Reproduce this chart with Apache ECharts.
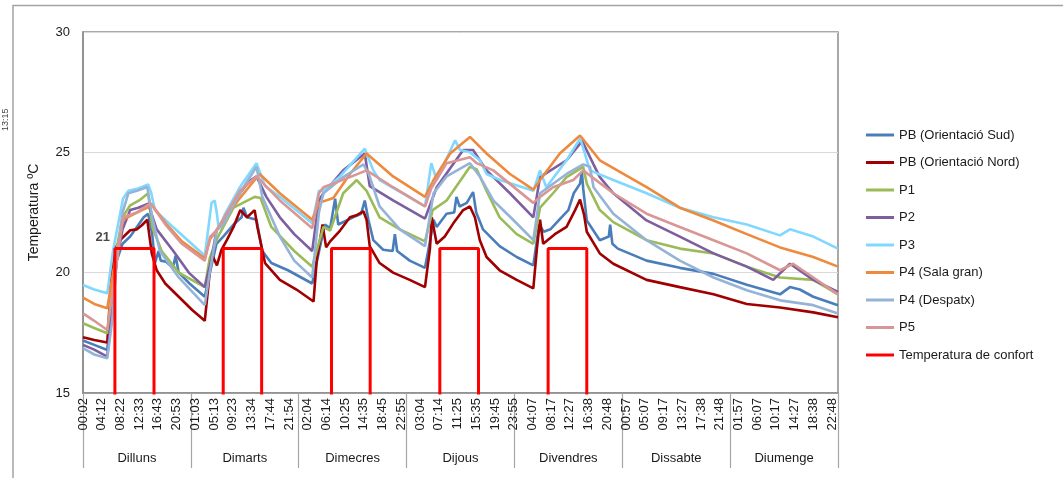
<!DOCTYPE html>
<html>
<head>
<meta charset="utf-8">
<script src="https://cdn.jsdelivr.net/npm/echarts@6/dist/echarts.min.js"></script>
<style>html,body{margin:0;padding:0;background:#fff;}#c{width:1063px;height:478px;}</style>
</head>
<body>
<div id="c"></div>
<script>
// ---- DATA (x = hours since Monday 00:00, y = temperature ºC) ----
const days = ['Dilluns','Dimarts','Dimecres','Dijous','Divendres','Dissabte','Diumenge'];
const tickLabels = [
 '00:02','04:12','08:22','12:33','16:43','20:53',
 '01:03','05:13','09:23','13:34','17:44','21:54',
 '02:04','06:14','10:25','14:35','18:45','22:55',
 '03:04','07:14','11:25','15:35','19:45','23:55',
 '04:07','08:17','12:27','16:38','20:48',
 '00:57','05:07','09:17','13:27','17:38','21:48',
 '01:57','06:07','10:17','14:27','18:38','22:48'];
const seriesNames = ['PB (Orientació Sud)','PB (Orientació Nord)','P1','P2','P3','P4 (Sala gran)','P4 (Despatx)','P5','Temperatura de confort'];

const pbSud = [[0,17.18],[2.5,17.0],[5.4,16.79],[6.2,18.5],[7.5,20.5],[8.8,21.2],[10.5,21.5],[12,21.9],[13.5,22.3],[14.5,22.45],[15.4,21.6],[16.0,20.4],[16.8,20.9],[17.3,20.5],[18.5,20.45],[20,20.2],[20.6,20.7],[21.3,20.0],[23.7,19.55],[27.1,19.0],
 [28.0,19.8],[29.7,21.2],[31.2,21.5],[33.5,22.0],[35.3,22.3],[35.7,22.7],[36.5,22.3],[38.6,22.2],[39.9,20.9],[41.9,20.4],[45.6,20.1],[51,19.55],
 [53.8,22.0],[55,21.85],[56.1,23.07],[56.8,22.0],[60.1,22.3],[61.9,22.45],[62.7,23.0],[63.5,22.2],[64.6,21.35],[66.8,20.95],[68.9,20.9],[69.4,21.6],[69.9,20.9],[72.7,20.5],[76.1,20.2],
 [77.6,21.7],[78.0,22.2],[78.7,21.9],[80.9,22.45],[82.6,22.5],[83.1,23.15],[83.8,22.75],[85.4,22.9],[86.8,23.35],[87.5,22.5],[89,21.8],[92.7,21.1],[96.5,20.65],[100.2,20.3],
 [101.5,22.0],[102.5,21.7],[104,21.8],[106,22.2],[108,22.6],[109.2,23.3],[110.6,23.7],[111.0,24.2],[111.3,23.5],[112.1,22.17],[115,21.35],[117.0,21.5],[117.3,22.0],[117.8,21.2],[119,21.0],[125.4,20.5],[132.8,20.2],[140.3,19.95],[147.7,19.5],[155.1,19.1],[157.3,19.4],[159.5,19.3],[162.5,19.0],[168,18.65]];

const pbNord = [[0,17.32],[2.5,17.2],[5.4,17.1],[5.9,18.6],[6.4,20.1],[7.1,21.0],[8.5,21.4],[10.5,21.76],[12,21.8],[13.1,21.97],[14.3,22.2],[15.3,20.8],[16.4,20.1],[18.3,19.55],[21.3,19.0],[24.3,18.45],[27.1,18.0],
 [28.2,20.0],[28.6,20.8],[29.8,20.3],[30.8,20.95],[32,21.35],[33.5,21.9],[35,22.6],[36.5,22.3],[38.2,22.6],[38.8,21.9],[40.5,20.4],[43.8,19.7],[47.5,19.3],[51.3,18.8],
 [52.0,20.5],[53.3,22.0],[54.1,21.05],[55,21.3],[57.2,21.75],[59.4,22.3],[61,22.4],[62.4,22.55],[63.1,22.2],[63.8,21.1],[66,20.4],[69,20.0],[72.7,19.7],[76.1,19.4],
 [77.2,21.0],[77.6,22.3],[78.7,21.2],[80.5,21.5],[82.4,22.05],[84.6,22.6],[86.1,22.75],[87.2,22.3],[88.3,21.35],[89.8,20.65],[92.7,20.1],[96.5,19.7],[100.2,19.35],
 [101,21.0],[101.7,22.2],[102.4,21.2],[105,21.6],[107.6,21.9],[109.5,22.6],[110.6,23.04],[111.5,22.4],[112.1,21.7],[115,20.8],[118,20.37],[125.4,19.7],[132.8,19.4],[140.3,19.1],[147.7,18.7],[155.1,18.55],[162.5,18.35],[168,18.15]];

const p1 = [[0,17.9],[2.5,17.7],[5.4,17.48],[6.5,19.5],[7.5,21.0],[8.8,22.3],[10.5,22.8],[12.5,23.0],[14.5,23.3],[15.4,21.9],[17.5,20.9],[21.3,20.0],[27.1,19.4],
 [28.2,20.6],[29.8,21.4],[33.5,22.7],[38.2,23.15],[39.5,23.1],[41.9,21.9],[47,20.9],[51,20.25],
 [53.5,21.9],[55,21.75],[57.9,23.3],[60.9,23.85],[63.1,23.4],[66.0,22.3],[70.5,21.8],[76.1,21.3],
 [77.8,22.6],[80.9,23.0],[86.1,24.4],[87.6,24.3],[89.8,23.4],[92.7,22.3],[96.5,21.6],[100.2,21.2],
 [101.7,22.7],[104.6,23.3],[107.6,23.97],[111.3,24.4],[112.1,23.7],[115,22.6],[118,22.1],[125.4,21.35],[132.8,21.0],[140.3,20.8],[147.7,20.25],[155.1,19.8],[162.5,19.7],[168,19.1]];

const p2 = [[0,17.0],[2.5,16.8],[5.4,16.51],[6.5,18.5],[7.5,20.5],[8.8,21.8],[10.5,22.6],[12.3,22.7],[14.5,22.87],[16.4,21.8],[20.1,20.9],[23.7,19.97],[27.1,19.4],
 [28.5,20.5],[29.7,21.75],[34.9,23.3],[37,23.8],[38.6,24.0],[40.8,23.15],[43.8,22.3],[47,21.6],[51,20.9],
 [52.5,23.0],[53.5,23.3],[57.9,24.25],[62.7,24.95],[63.8,23.6],[69,23.0],[76.1,22.25],
 [78.7,23.55],[84.6,25.1],[86.8,25.1],[89.8,24.25],[95,23.3],[100.2,22.3],
 [101.7,23.97],[107.6,24.67],[110.6,25.36],[111,25.5],[113.6,24.5],[115,23.97],[118,23.3],[125.4,22.17],[132.8,21.5],[140.3,20.8],[147.7,20.25],[153.6,19.7],[157.3,20.37],[162.5,19.7],[168,19.2]];

const p3 = [[0,19.49],[2.5,19.3],[5.4,19.14],[6.7,20.93],[8.9,23.07],[10.1,23.4],[12.3,23.5],[14.5,23.67],[15.2,23.3],[16,22.6],[19.4,22.0],[23,21.4],[27.1,20.7],
 [28.6,22.9],[29.3,23.0],[29.8,22.45],[30.2,21.8],[31.5,22.4],[34.9,23.55],[38.6,24.55],[40.5,23.6],[43.8,23.15],[51,22.05],
 [52.5,23.4],[53.5,23.4],[57.2,24.0],[62.7,25.15],[64.6,24.25],[66,23.85],[76.1,22.75],
 [77.5,24.55],[78.7,23.85],[82.8,25.5],[83.9,25.1],[86.1,25.0],[88.3,24.67],[89.8,24.1],[92.8,23.85],[100.2,23.4],
 [101.7,24.25],[103.1,23.55],[107.6,24.67],[110.6,25.57],[111.0,25.36],[112.8,24.25],[118,23.85],[125.4,23.3],[132.8,22.7],[140.3,22.3],[147.7,22.0],[155.1,21.55],[157.3,21.8],[162.5,21.5],[168,21.0]];

const p4Sala = [[0,18.96],[2.5,18.7],[5.4,18.52],[6.7,20.0],[8.9,22.2],[12,22.5],[14.3,22.7],[15.1,22.87],[18.5,22.03],[22,21.3],[27.1,20.6],
 [28.3,21.4],[29.7,21.75],[34.9,23.1],[39.3,24.1],[43.8,23.3],[51,22.2],
 [52.5,22.9],[55.7,23.1],[59.4,24.1],[63.1,24.95],[69,24.0],[76.1,23.15],
 [78,23.85],[81.7,24.95],[86.1,25.64],[89.8,24.95],[95,24.1],[100.2,23.45],
 [101.7,23.85],[106.1,24.95],[110.6,25.7],[115,24.67],[125.4,23.55],[132.8,22.7],[140.3,22.17],[147.7,21.6],[155.1,21.05],[162.5,20.65],[168,20.25]];

const p4Despatx = [[0,16.86],[2.5,16.6],[5.4,16.44],[6.5,18.0],[7.5,20.5],[8.8,22.5],[10.1,23.3],[12,23.4],[14.3,23.56],[15.4,22.3],[17.1,20.9],[21.3,19.8],[27.1,18.65],
 [28.2,20.0],[29.8,21.8],[31.2,22.0],[34.9,23.3],[38.6,24.4],[39.9,23.15],[43.8,21.5],[47,20.5],[51,19.8],
 [52.5,22.5],[53.5,23.3],[57.9,23.97],[62.4,24.5],[63.6,24.1],[66,22.75],[70.5,21.8],[76.1,21.1],
 [78,23.3],[80.9,24.0],[86.1,24.55],[88.3,24.0],[91.3,23.0],[95.7,22.2],[100.2,21.35],
 [101.7,23.3],[107.6,24.1],[111.3,24.5],[112.8,24.4],[113.6,23.55],[118,22.45],[125.4,21.35],[132.8,20.5],[140.3,19.8],[147.7,19.27],[155.1,18.85],[162.5,18.65],[168,18.3]];

const p5 = [[0,18.31],[2.5,18.0],[5.4,17.62],[6.8,19.5],[8.9,22.3],[12,22.5],[14.3,22.8],[15.1,22.87],[18.5,21.96],[22,21.2],[27.1,20.5],
 [28.3,21.5],[29.7,21.75],[34.9,23.4],[38.6,24.0],[43.8,23.0],[51,21.85],
 [52.5,23.3],[53.5,23.55],[59.4,23.97],[63.1,24.25],[69,23.55],[76.1,22.75],
 [77.5,23.5],[80.9,24.55],[86.1,24.8],[87.6,24.55],[91.3,24.25],[100.2,22.9],
 [101.7,23.15],[104.6,23.55],[109.1,23.85],[111.3,24.25],[118,23.3],[125.4,22.45],[132.8,21.9],[140.3,21.35],[147.7,20.8],[155.1,20.1],[158,20.37],[162.5,19.8],[168,19.1]];

// comfort temperature: on / off hours per working day, and level
const comfortOn  = [7.1, 31.2, 55.3, 79.4, 103.5];
const comfortOff = [15.8, 39.75, 63.9, 88.0, 112.1];
const comfortLevel = 21;
const comfortBase = 0;
const weekHours = 168;

// ---- build ----
const toMin = arr => arr.map(([h, v]) => [h * 60, v]);
const confort = [[0, comfortBase]];
comfortOn.forEach((on, i) => {
  confort.push([on, comfortBase], [on, comfortLevel], [comfortOff[i], comfortLevel], [comfortOff[i], comfortBase]);
});
confort.push([weekHours, comfortBase]);

const colors = ['#4A7EBB','#A00000','#9BBB59','#7D5FA0','#80D8FF','#EE8A3E','#95B3D7','#D99694','#FF0000'];
const dataList = [pbSud, pbNord, p1, p2, p3, p4Sala, p4Despatx, p5, confort];

const series = dataList.map((d, i) => ({
  name: seriesNames[i], type: 'line', data: toMin(d), showSymbol: false, symbol: 'none',
  lineStyle: { width: i === 8 ? 3 : 2.6, color: colors[i] }, itemStyle: { color: colors[i] },
  clip: true, z: 2 + i
}));
series.push({
  type: 'scatter', data: [[comfortOn[0] * 60, comfortLevel]], symbolSize: 2,
  itemStyle: { color: 'rgba(0,0,0,0)' }, silent: true, z: 20,
  label: { show: true, position: 'left', distance: 4, offset: [0, -11], formatter: String(comfortLevel),
           fontWeight: 'bold', fontSize: 13, color: '#1a1a1a', fontFamily: 'Liberation Sans' }
});

const chart = echarts.init(document.getElementById('c'), null, { renderer: 'canvas' });
chart.setOption({
  animation: false,
  backgroundColor: '#fff',
  textStyle: { fontFamily: 'Liberation Sans' },
  color: colors,
  grid: { left: 83, right: 225, top: 32, bottom: 85, show: true, borderColor: '#8c8c8c', borderWidth: 1.5 },
  graphic: [
    { type: 'polyline', shape: { points: [[13, 478], [13, 5.5], [1063, 5.5]] }, style: { stroke: '#a3a3a3', lineWidth: 1.5, fill: null }, silent: true },
    { type: 'text', x: 1, y: 131, rotation: Math.PI / 2, style: { text: '13:15', fontSize: 9, fill: '#444', fontFamily: 'Liberation Sans' }, silent: true }
  ],
  legend: {
    data: seriesNames, orient: 'vertical', left: 861, top: 123,
    itemWidth: 28, itemHeight: 3, icon: 'rect', itemGap: 13.5,
    textStyle: { fontSize: 13, color: '#1a1a1a', lineHeight: 14, fontFamily: 'Liberation Sans' }
  },
  xAxis: [
    {
      type: 'value', min: 0, max: weekHours * 60, interval: 250,
      axisLine: { show: true, lineStyle: { color: '#8c8c8c', width: 1.5 } },
      axisTick: { show: false }, splitLine: { show: false },
      axisLabel: {
        rotate: 90, fontSize: 13, color: '#1a1a1a', margin: 5, fontFamily: 'Liberation Sans',
        showMaxLabel: false,
        formatter: v => { const i = v / 250; return (Number.isInteger(i) && i < tickLabels.length) ? tickLabels[i] : ''; }
      }
    },
    {
      type: 'category', data: days, position: 'bottom', boundaryGap: true,
      axisLine: { show: false },
      axisTick: { show: true, interval: 0, length: 75, lineStyle: { color: '#a6a6a6', width: 1.2 } },
      axisLabel: { margin: 59, fontSize: 13, color: '#1a1a1a', fontFamily: 'Liberation Sans' },
      splitLine: { show: false }
    }
  ],
  yAxis: {
    type: 'value', min: 15, max: 30, interval: 5,
    name: 'Temperatura ºC', nameLocation: 'middle', nameGap: 42,
    nameTextStyle: { fontSize: 14, color: '#1a1a1a', fontFamily: 'Liberation Sans' },
    axisLine: { show: true, lineStyle: { color: '#8c8c8c', width: 1.5 } },
    axisTick: { show: false },
    axisLabel: { fontSize: 13, color: '#1a1a1a', margin: 13, fontFamily: 'Liberation Sans' },
    splitLine: { show: true, lineStyle: { color: '#d9d9d9', width: 1 } }
  },
  series: series
});
</script>
</body>
</html>
